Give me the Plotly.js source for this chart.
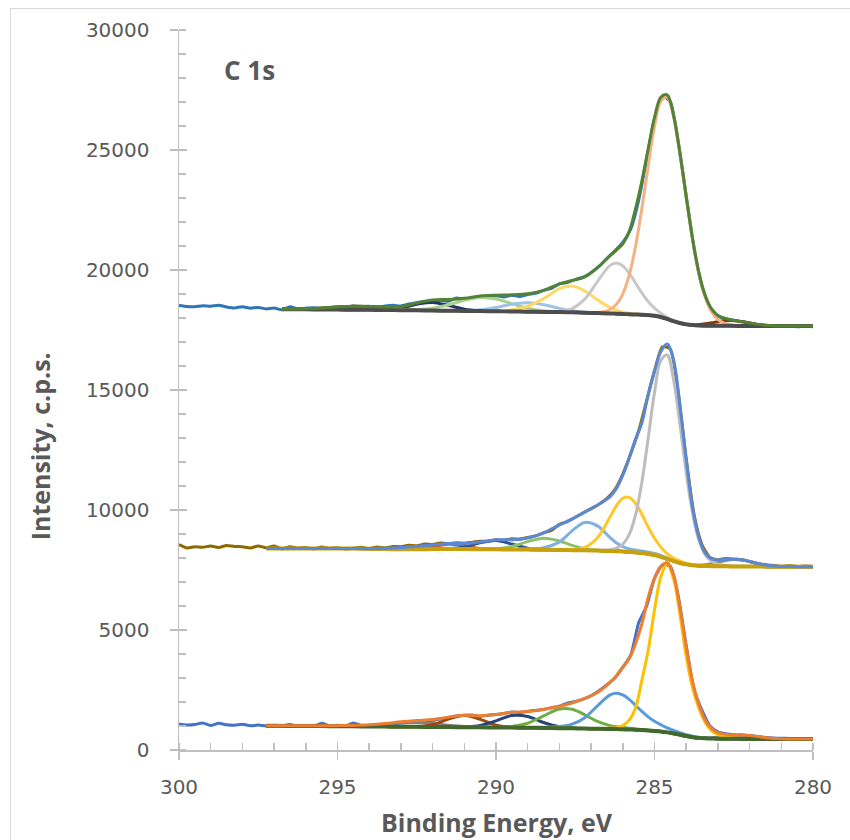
<!DOCTYPE html>
<html>
<head>
<meta charset="utf-8">
<script src="https://cdn.plot.ly/plotly-3.0.1.min.js"></script>
<style>
  html, body { margin: 0; padding: 0; background: #ffffff; overflow: hidden; }
  #chart { position: absolute; left: 0; top: 0; width: 850px; height: 840px; }
  #frame { position: absolute; left: 10px; top: 8px; width: 860px; height: 860px;
           border: 1px solid #D9D9D9; pointer-events: none; }
</style>
</head>
<body>
<div id="chart"></div>
<div id="frame"></div>
<script>
// ---------------- DATA ----------------
// Binding energy grid of the raw spectra (eV)
const rawE = [300,299.75,299.5,299.25,299,298.75,298.5,298.25,298,297.75,297.5,297.25,297,296.75,296.5,296.25,296,295.75,295.5,295.25,295,294.75,294.5,294.25,294,293.75,293.5,293.25,293,292.75,292.5,292.25,292,291.75,291.5,291.25,291,290.75,290.5,290.25,290,289.75,289.5,289.25,289,288.75,288.5,288.25,288,287.75,287.5,287.25,287,286.75,286.5,286.25,286,285.75,285.5,285.25,285,284.75,284.5,284.25,284,283.75,283.5,283.25,283,282.75,282.5,282.25,282,281.75,281.5,281.25,281,280.75,280.5,280.25,280];

// Binding energy grid of the fitted curves (eV)
const fitE_top   = [296.75,296.5,296,295.5,295,294.5,294,293.5,293,292.5,292,291.5,291,290.5,290,289.5,289,288.5,288,287.6,287.2,286.8,286.4,286.2,286,285.8,285.6,285.4,285.2,285,284.8,284.6,284.4,284.2,284,283.8,283.6,283.4,283.2,283,282.6,282.2,281.8,281.4,281,280.5,280];
const fitE_lower = [297.25,296.5,296,295.5,295,294.5,294,293.5,293,292.5,292,291.5,291,290.5,290,289.5,289,288.5,288,287.6,287.2,286.8,286.4,286.2,286,285.8,285.6,285.4,285.2,285,284.8,284.6,284.4,284.2,284,283.8,283.6,283.4,283.2,283,282.6,282.2,281.8,281.4,281,280.5,280];

// ---- Upper spectrum (c.p.s.) ----
const rawTop = [18520,18480,18470,18510,18490,18530,18460,18420,18470,18410,18440,18380,18420,18340,18470,18380,18410,18430,18390,18440,18460,18420,18500,18460,18490,18450,18500,18530,18500,18580,18640,18700,18680,18740,18700,18830,18780,18840,18880,18860,18930,18880,18950,18900,18980,19030,19150,19240,19420,19480,19600,19700,19900,20150,20480,20800,21150,21700,22900,24600,26300,27250,27000,25300,23100,20900,19300,18450,18080,17950,17910,17850,17780,17730,17690,17680,17650,17690,17640,17660,17640];
const bgTop = [18365,18362,18360,18355,18350,18345,18340,18333,18325,18318,18310,18303,18295,18288,18280,18272,18265,18255,18245,18235,18220,18205,18190,18180,18168,18155,18145,18135,18120,18095,18040,17960,17870,17790,17735,17705,17690,17682,17678,17675,17672,17670,17668,17666,17665,17663,17662];
const orangeTop = [18365,18362,18360,18355,18350,18345,18340,18333,18325,18318,18310,18303,18295,18288,18280,18272,18265,18255,18245,18235,18222,18226,18353,18570,19006,19775,20963,22547,24340,25983,27041,27199,26407,24890,23046,21283,19855,18863,18257,17931,17708,17680,17668,17666,17665,17663,17662];
const grayTop = [18365,18362,18360,18355,18350,18345,18340,18333,18325,18318,18310,18303,18295,18288,18280,18272,18265,18257,18274,18394,18785,19519,20194,20293,20172,19866,19459,19044,18685,18411,18199,18032,17899,17801,17735,17705,17690,17682,17678,17675,17672,17670,17668,17666,17665,17663,17662];
const yellowTop = [18365,18362,18360,18355,18350,18345,18340,18333,18325,18318,18310,18303,18295,18288,18285,18340,18490,18805,19223,19332,19126,18755,18436,18326,18249,18196,18165,18135,18120,18095,18040,17960,17870,17790,17735,17705,17690,17682,17678,17675,17672,17670,17668,17666,17665,17663,17662];
const lblueTop = [18365,18362,18360,18355,18350,18345,18340,18333,18325,18318,18310,18303,18307,18342,18437,18571,18635,18554,18402,18304,18243,18211,18190,18180,18168,18155,18145,18135,18120,18095,18040,17960,17870,17790,17735,17705,17690,17682,17678,17675,17672,17670,17668,17666,17665,17663,17662];
const lgreenTop = [18365,18362,18360,18355,18350,18345,18340,18333,18325,18345,18406,18549,18739,18854,18790,18597,18411,18302,18255,18235,18220,18205,18190,18180,18168,18155,18145,18135,18120,18095,18040,17960,17870,17790,17735,17705,17690,17682,17678,17675,17672,17670,17668,17666,17665,17663,17662];
const navyTop = [18365,18362,18360,18355,18350,18345,18342,18350,18420,18573,18649,18525,18366,18299,18280,18272,18265,18255,18245,18235,18220,18205,18190,18180,18168,18155,18145,18135,18120,18095,18040,17960,17870,17790,17735,17705,17690,17682,17678,17675,17672,17670,17668,17666,17665,17663,17662];
const brownTop = [18365,18371,18389,18421,18463,18492,18482,18437,18382,18341,18317,18303,18295,18288,18280,18272,18265,18255,18245,18235,18220,18205,18190,18180,18168,18155,18145,18135,18120,18095,18040,17960,17870,17790,17744,17726,17733,17759,17800,17844,17892,17839,17745,17687,17668,17663,17662];
const envTop = [18365,18371,18389,18421,18463,18492,18484,18454,18477,18623,18752,18773,18822,18919,18952,18964,19006,19151,19419,19560,19714,20096,20603,20829,21091,21600,22550,23700,25050,26350,27200,27300,26450,24901,23055,21304,19898,18940,18379,18100,17928,17839,17745,17687,17668,17663,17662];

// ---- Middle spectrum (c.p.s.) ----
const rawMid = [8560,8420,8470,8450,8500,8440,8520,8480,8470,8420,8500,8430,8500,8380,8470,8410,8440,8380,8460,8400,8430,8370,8410,8450,8390,8460,8420,8480,8470,8530,8510,8580,8560,8620,8600,8640,8610,8660,8700,8690,8760,8740,8800,8780,8860,8920,9050,9150,9400,9520,9700,9880,10060,10240,10480,10850,11500,12350,13300,14550,15800,16800,16700,14900,12150,9800,8550,8020,7930,7980,7950,7930,7860,7770,7720,7690,7660,7680,7650,7670,7650];
const bgMid = [8400,8400,8398,8396,8394,8392,8390,8388,8385,8382,8378,8375,8370,8365,8360,8355,8350,8343,8335,8328,8320,8310,8295,8285,8270,8252,8232,8205,8170,8120,8050,7960,7870,7790,7735,7700,7680,7668,7660,7655,7650,7646,7643,7640,7638,7636,7635];
const grayMid = [8400,8400,8398,8396,8394,8392,8390,8388,8385,8382,8378,8375,8370,8365,8360,8355,8350,8343,8335,8328,8320,8320,8348,8409,8575,8972,9784,11147,12980,14896,16228,16459,15442,13602,11561,9875,8752,8140,7859,7740,7675,7656,7643,7640,7638,7636,7635];
const yellowMid = [8400,8400,8398,8396,8394,8392,8390,8388,8385,8382,8378,8375,8370,8365,8360,8355,8350,8343,8335,8344,8440,8847,9714,10179,10487,10528,10282,9823,9290,8821,8452,8179,7999,7875,7783,7720,7690,7668,7660,7655,7650,7646,7643,7640,7638,7636,7635];
const lblueMid = [8400,8400,8398,8396,8394,8392,8390,8388,8385,8382,8378,8375,8370,8365,8360,8355,8374,8430,8673,9130,9482,9337,8849,8623,8472,8379,8329,8289,8245,8190,8105,8000,7895,7800,7735,7700,7680,7668,7660,7655,7650,7646,7643,7640,7638,7636,7635];
const lgreenMid = [8400,8400,8398,8396,8394,8392,8390,8388,8385,8382,8378,8375,8370,8370,8385,8478,8681,8822,8709,8525,8390,8327,8298,8285,8270,8252,8232,8205,8170,8120,8050,7960,7870,7790,7735,7700,7680,7668,7660,7655,7650,7646,7643,7640,7638,7636,7635];
const navyMid = [8400,8400,8398,8396,8394,8392,8390,8388,8385,8382,8378,8387,8455,8634,8733,8583,8411,8350,8335,8328,8320,8310,8295,8285,8270,8252,8232,8205,8170,8120,8050,7960,7870,7790,7735,7700,7680,7668,7660,7655,7650,7646,7643,7640,7638,7636,7635];
const redMid = [8400,8400,8398,8396,8394,8392,8390,8388,8385,8395,8466,8570,8509,8396,8362,8355,8350,8343,8335,8328,8320,8310,8295,8285,8270,8252,8232,8205,8170,8120,8050,7960,7870,7790,7735,7700,7680,7668,7660,7655,7650,7646,7643,7640,7638,7636,7635];
const dgrayMid = [8400,8400,8398,8396,8394,8392,8360,8350,8345,8345,8350,8365,8370,8365,8360,8355,8350,8343,8335,8328,8320,8310,8295,8285,8270,8252,8232,8205,8170,8120,8050,7960,7870,7790,7735,7700,7702,7719,7758,7817,7928,7903,7771,7675,7644,7636,7635];
const envMid = [8400,8400,8398,8396,8394,8392,8395,8410,8440,8490,8540,8600,8610,8670,8760,8760,8830,9050,9380,9620,9910,10200,10560,10900,11450,12150,12950,13613,14800,15780,16600,16920,16250,14350,12100,10100,8850,8200,7960,7920,7960,7920,7790,7690,7650,7640,7640];

// ---- Lower spectrum (c.p.s.) ----
const rawBot = [1080,1040,1060,1130,1020,1110,1050,1030,1070,1010,1040,1000,1030,1010,1060,990,1020,1000,1110,1010,1030,1000,1120,1020,990,1060,1040,1090,1120,1150,1180,1210,1230,1300,1350,1420,1440,1460,1400,1450,1480,1520,1580,1560,1610,1650,1690,1760,1830,1950,2020,2120,2260,2470,2720,3000,3450,3950,5300,6000,7150,7700,7650,6400,4350,2500,1650,1000,760,680,640,620,600,560,520,500,490,480,470,475,470];
const bgBot = [1010,1005,1000,995,990,985,980,975,970,965,960,955,950,945,940,935,928,920,910,902,893,885,876,870,863,855,845,832,815,795,770,735,690,635,580,535,505,488,478,472,467,463,460,458,456,455,454];
const yellowBot = [1010,1005,1000,995,990,985,980,975,970,965,960,955,950,945,940,935,928,920,910,902,893,885,904,933,1018,1243,1752,2900,4143,5831,7220,7750,7140,5671,3908,2600,1750,1150,800,640,520,480,465,458,456,455,454];
const lblueBot = [1010,1005,1000,995,990,985,980,975,970,965,960,955,950,945,940,935,928,948,977,1075,1348,1842,2296,2362,2293,2110,1862,1610,1380,1198,1053,919,817,726,640,575,530,498,478,472,467,463,460,458,456,455,454];
const greenBot = [1010,1005,1000,995,990,985,980,975,970,965,960,955,950,945,946,977,1116,1421,1706,1698,1466,1191,1016,969,937,908,880,852,825,795,770,735,690,635,580,535,505,488,478,472,467,463,460,458,456,455,454];
const navyBot = [1010,1005,1000,995,990,985,980,975,970,965,960,955,962,1024,1215,1433,1394,1146,967,914,893,885,876,870,863,855,845,832,815,795,770,735,690,635,580,535,505,488,478,472,467,463,460,458,456,455,454];
const rustBot = [1010,1005,1000,995,990,985,980,975,970,977,1057,1287,1450,1277,1037,947,928,920,910,902,893,885,876,870,863,855,845,832,815,795,770,735,690,635,580,535,505,488,478,472,467,463,460,458,456,455,454];
const grayBot = [1010,1005,1000,995,994,1000,1026,1078,1131,1144,1100,1033,980,953,940,935,928,920,910,902,893,885,876,870,863,855,845,832,815,795,770,735,690,635,580,535,511,503,510,530,593,610,553,490,462,455,454];
const envBot = [1010,1010,1010,1010,1015,1025,1050,1100,1175,1230,1270,1370,1450,1430,1480,1570,1600,1700,1820,1960,2150,2400,2820,3100,3450,3800,4430,5250,6350,7150,7650,7800,7300,5950,4300,2850,1900,1250,900,720,630,630,570,500,470,460,458];

// Axis ticks / labels
const xTickVals = [300, 295, 290, 285, 280];
const yTickVals = [0, 5000, 10000, 15000, 20000, 25000, 30000];
const panelLabel = "C 1s";
const xTitle = "Binding Energy, eV";
const yTitle = "Intensity, c.p.s.";

// ---------------- DRAWING ----------------
function curve(x, y, color, width, smooth) {
  return {
    x: x, y: y, type: "scatter", mode: "lines",
    line: { color: color, width: width, shape: "spline", smoothing: smooth },
    hoverinfo: "skip", showlegend: false
  };
}

const traces = [
  // upper
  curve(rawE, rawTop, "#2E75B6", 3, 0.6),
  curve(fitE_top, brownTop, "#843C0C", 3, 1),
  curve(fitE_top, navyTop, "#1F3864", 3, 1),
  curve(fitE_top, lgreenTop, "#A9D18E", 3, 1),
  curve(fitE_top, lblueTop, "#9DC3E6", 3, 1),
  curve(fitE_top, yellowTop, "#FFD966", 3, 1),
  curve(fitE_top, grayTop, "#C8C8C8", 3, 1),
  curve(fitE_top, orangeTop, "#F4B183", 3, 1),
  curve(fitE_top, bgTop, "#4D4D4D", 4, 1),
  curve(fitE_top, envTop, "#548235", 3, 1),
  // middle
  curve(rawE, rawMid, "#8C6A00", 3, 0.6),
  curve(fitE_lower, dgrayMid, "#8C8C8C", 3, 1),
  curve(fitE_lower, redMid, "#D0601A", 3, 1),
  curve(fitE_lower, navyMid, "#2F5597", 3, 1),
  curve(fitE_lower, lgreenMid, "#8CC168", 3, 1),
  curve(fitE_lower, lblueMid, "#7EB0E0", 3, 1),
  curve(fitE_lower, yellowMid, "#FFC72C", 3, 1),
  curve(fitE_lower, grayMid, "#BDBDBD", 3, 1),
  curve(fitE_lower, bgMid, "#C8A00A", 4, 1),
  curve(fitE_lower, envMid, "#5B87D6", 3, 1),
  // lower
  curve(rawE, rawBot, "#4472C4", 3, 0.6),
  curve(fitE_lower, grayBot, "#808080", 3, 1),
  curve(fitE_lower, rustBot, "#9E480E", 3, 1),
  curve(fitE_lower, navyBot, "#264478", 3, 1),
  curve(fitE_lower, greenBot, "#70AD47", 3, 1),
  curve(fitE_lower, lblueBot, "#5B9BD5", 3, 1),
  curve(fitE_lower, yellowBot, "#FFC000", 3, 1),
  curve(fitE_lower, bgBot, "#43682B", 4, 1),
  curve(fitE_lower, envBot, "#ED7D31", 3, 1),
  // carrier for the inner half of the crossing major ticks
  { x: [], y: [], type: "scatter", mode: "lines", xaxis: "x2", yaxis: "y2", showlegend: false, hoverinfo: "skip" }
];

const tickFont = { family: "DejaVu Sans", size: 20, color: "#595959" };
const axisGray = "#BFBFBF";

const layout = {
  width: 850, height: 840,
  margin: { l: 179, r: 37, t: 30, b: 90, pad: 0 },
  paper_bgcolor: "#ffffff", plot_bgcolor: "#ffffff",
  showlegend: false,
  xaxis: {
    range: [300, 280], tickmode: "array", tickvals: xTickVals, ticktext: xTickVals.map(String),
    ticks: "outside", ticklen: 8, tickwidth: 1.5, tickcolor: axisGray,
    minor: { ticks: "inside", dtick: 1, tick0: 280, ticklen: 7, tickwidth: 1.5, tickcolor: axisGray },
    showline: true, linecolor: axisGray, linewidth: 1.5,
    showgrid: false, zeroline: false, tickfont: tickFont, ticklabelstandoff: 10
  },
  yaxis: {
    range: [0, 30000], tickmode: "array", tickvals: yTickVals, ticktext: yTickVals.map(String),
    ticks: "outside", ticklen: 8, tickwidth: 1.5, tickcolor: axisGray,
    minor: { ticks: "inside", dtick: 1000, tick0: 0, ticklen: 7, tickwidth: 1.5, tickcolor: axisGray },
    showline: true, linecolor: axisGray, linewidth: 1.5,
    showgrid: false, zeroline: false, tickfont: tickFont, ticklabelstandoff: 16
  },
  xaxis2: {
    overlaying: "x", matches: "x", anchor: "y2", side: "bottom",
    range: [300, 280], tickmode: "array", tickvals: xTickVals,
    ticks: "inside", ticklen: 8, tickwidth: 1.5, tickcolor: axisGray,
    showticklabels: false, showline: false, showgrid: false, zeroline: false
  },
  yaxis2: {
    overlaying: "y", matches: "y", anchor: "x2", side: "left",
    range: [0, 30000], tickmode: "array", tickvals: yTickVals,
    ticks: "inside", ticklen: 8, tickwidth: 1.5, tickcolor: axisGray,
    showticklabels: false, showline: false, showgrid: false, zeroline: false
  },
  annotations: [
    { text: "<b>" + panelLabel + "</b>", xref: "paper", yref: "paper",
      x: 0.068, y: 0.944, xanchor: "left", yanchor: "middle", showarrow: false,
      font: { family: "Open Sans", size: 26, color: "#595959" } },
    { text: "<b>" + xTitle + "</b>", xref: "paper", yref: "paper",
      x: 0.5016, y: -0.1, xanchor: "center", yanchor: "middle", showarrow: false,
      font: { family: "Open Sans", size: 25, color: "#595959" } },
    { text: "<b>" + yTitle + "</b>", xref: "paper", yref: "paper", textangle: -90,
      x: -0.219, y: 0.422, xanchor: "center", yanchor: "middle", showarrow: false,
      font: { family: "Open Sans", size: 25, color: "#595959" } }
  ]
};

Plotly.newPlot("chart", traces, layout, { displayModeBar: false, staticPlot: true });
</script>
</body>
</html>
